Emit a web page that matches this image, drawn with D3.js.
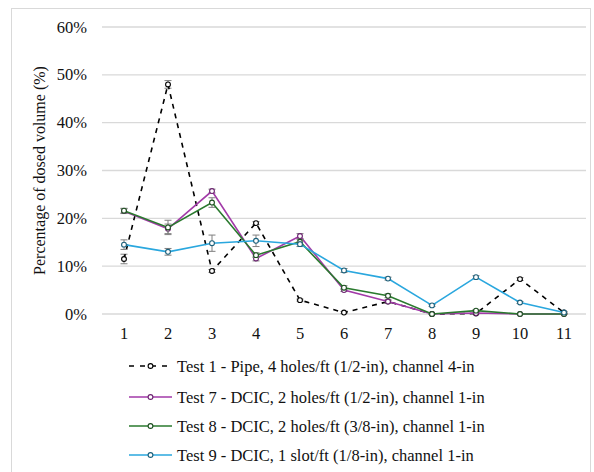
<!DOCTYPE html>
<html>
<head>
<meta charset="utf-8">
<script src="https://cdn.jsdelivr.net/npm/d3@7"></script>
<style>
  body { margin: 0; background: #fff; }
  text { font-family: "Times New Roman", "Liberation Serif", serif; }
</style>
</head>
<body>
<div id="chart"></div>
<script>
var categories = [1, 2, 3, 4, 5, 6, 7, 8, 9, 10, 11];
var yTicks = [0, 0.1, 0.2, 0.3, 0.4, 0.5, 0.6];

var test1 = [0.115, 0.48, 0.09, 0.19, 0.029, 0.003, 0.026, 0.0, 0.001, 0.073, 0.003];
var test1Err = [0.01, 0.008, 0.003, 0.003, 0.002, 0.002, 0.003, 0.001, 0.001, 0.003, 0.001];
var test7 = [0.215, 0.178, 0.257, 0.116, 0.163, 0.05, 0.026, 0.0, 0.002, 0.0, 0.0];
var test7Err = [0.005, 0.01, 0.004, 0.005, 0.005, 0.003, 0.003, 0.001, 0.001, 0.001, 0.001];
var test8 = [0.216, 0.181, 0.233, 0.123, 0.151, 0.055, 0.038, 0.0, 0.007, 0.0, 0.0];
var test8Err = [0.005, 0.015, 0.01, 0.005, 0.005, 0.004, 0.004, 0.001, 0.002, 0.001, 0.001];
var test9 = [0.145, 0.13, 0.148, 0.153, 0.146, 0.091, 0.074, 0.018, 0.077, 0.024, 0.003];
var test9Err = [0.01, 0.007, 0.017, 0.012, 0.005, 0.004, 0.003, 0.002, 0.003, 0.002, 0.002];

var seriesNames = [
    "Test 1 - Pipe, 4 holes/ft (1/2-in), channel 4-in",
    "Test 7 - DCIC, 2 holes/ft (1/2-in), channel 1-in",
    "Test 8 - DCIC, 2 holes/ft (3/8-in), channel 1-in",
    "Test 9 - DCIC, 1 slot/ft (1/8-in), channel 1-in"
];

var series = [
    { name: seriesNames[0], values: test1, err: test1Err, color: "#000", marker: "#000", dash: "5,5" },
    { name: seriesNames[1], values: test7, err: test7Err, color: "#A23AA8", marker: "#6b2370", dash: null },
    { name: seriesNames[2], values: test8, err: test8Err, color: "#2A7A2E", marker: "#1d4f20", dash: null },
    { name: seriesNames[3], values: test9, err: test9Err, color: "#2AA7DE", marker: "#1b5f7a", dash: null }
];

var width = 594, height = 472;
var plot = { left: 102, right: 586, top: 27, bottom: 314 };
var serif = '"Times New Roman", "Liberation Serif", serif';

var svg = d3.select("#chart").append("svg")
    .attr("width", width)
    .attr("height", height)
    .style("display", "block");

svg.append("rect")
    .attr("x", 11.5).attr("y", 8.5)
    .attr("width", 579).attr("height", 470)
    .attr("fill", "#fff")
    .attr("stroke", "#d9d9d9");

var x = d3.scaleBand()
    .domain(categories)
    .range([plot.left, plot.right]);

var y = d3.scaleLinear()
    .domain([0, 0.6])
    .range([plot.bottom, plot.top]);

var cx = d => x(d) + x.bandwidth() / 2;

// gridlines
svg.append("g")
    .selectAll("line")
    .data(yTicks)
    .join("line")
    .attr("x1", plot.left).attr("x2", plot.right)
    .attr("y1", d => y(d)).attr("y2", d => y(d))
    .attr("stroke", "#d9d9d9")
    .attr("stroke-width", 1.3);

// y labels
svg.append("g")
    .selectAll("text")
    .data(yTicks)
    .join("text")
    .attr("x", 87)
    .attr("y", d => y(d) + 5.5)
    .attr("text-anchor", "end")
    .style("font-family", serif)
    .style("font-size", "16.5px")
    .style("fill", "#111")
    .text(d3.format(".0%"));

// x labels
svg.append("g")
    .selectAll("text")
    .data(categories)
    .join("text")
    .attr("x", d => cx(d))
    .attr("y", 339)
    .attr("text-anchor", "middle")
    .style("font-family", serif)
    .style("font-size", "16.5px")
    .style("fill", "#111")
    .text(d => d);

svg.append("text")
    .attr("transform", "translate(45," + ((plot.top + plot.bottom) / 2) + ") rotate(-90)")
    .attr("text-anchor", "middle")
    .style("font-family", serif)
    .style("font-size", "16px")
    .style("fill", "#111")
    .text("Percentage of dosed volume (%)");

var line = d3.line()
    .x((d, i) => cx(categories[i]))
    .y(d => y(d));

series.forEach(function(s) {
    var g = svg.append("g");

    // error bars
    var eb = g.selectAll("g.err")
        .data(s.values.map((v, i) => ({ c: categories[i], v: v, e: s.err[i] })))
        .join("g");
    eb.append("line")
        .attr("x1", d => cx(d.c)).attr("x2", d => cx(d.c))
        .attr("y1", d => y(d.v - d.e)).attr("y2", d => y(d.v + d.e))
        .attr("stroke", "#7f7f7f").attr("stroke-width", 1);
    [-1, 1].forEach(function(sign) {
        eb.append("line")
            .attr("x1", d => cx(d.c) - 3.5).attr("x2", d => cx(d.c) + 3.5)
            .attr("y1", d => y(d.v + sign * d.e)).attr("y2", d => y(d.v + sign * d.e))
            .attr("stroke", "#7f7f7f").attr("stroke-width", 1);
    });

    g.append("path")
        .datum(s.values)
        .attr("d", line)
        .attr("fill", "none")
        .attr("stroke", s.color)
        .attr("stroke-width", 1.6)
        .attr("stroke-dasharray", s.dash);

    g.selectAll("circle")
        .data(s.values)
        .join("circle")
        .attr("cx", (d, i) => cx(categories[i]))
        .attr("cy", d => y(d))
        .attr("r", 2.4)
        .attr("fill", "#fff")
        .attr("stroke", s.marker)
        .attr("stroke-width", 1.1);
});

// legend
var legendY = [366, 397, 426, 455];
var legend = svg.append("g")
    .selectAll("g")
    .data(series)
    .join("g")
    .attr("transform", (d, i) => "translate(129," + legendY[i] + ")");

legend.append("line")
    .attr("x1", 0).attr("x2", 43)
    .attr("y1", 0).attr("y2", 0)
    .attr("stroke", d => d.color)
    .attr("stroke-width", 1.6)
    .attr("stroke-dasharray", d => d.dash ? "5,6" : null);

legend.append("circle")
    .attr("cx", 21.5).attr("cy", 0).attr("r", 2.4)
    .attr("fill", "#fff")
    .attr("stroke", d => d.marker)
    .attr("stroke-width", 1.1);

legend.append("text")
    .attr("x", 48)
    .attr("y", 5.5)
    .style("font-family", serif)
    .style("font-size", "16.5px")
    .style("fill", "#111")
    .text(d => d.name);
</script>
</body>
</html>
